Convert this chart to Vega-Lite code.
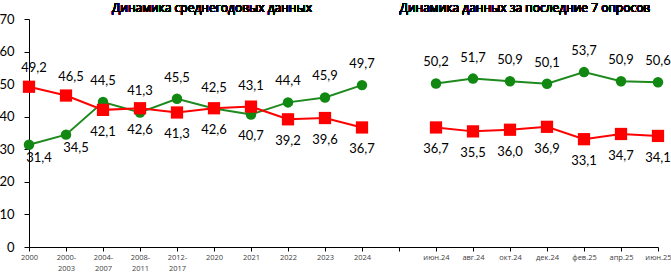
{
  "$schema": "https://vega.github.io/schema/vega-lite/v6.json",
  "autosize": "none",
  "width": 629,
  "height": 228,
  "padding": {"left": 29, "top": 19, "right": 13, "bottom": 26},
  "background": "white",
  "config": {"view": {"stroke": null}},
  "data": {"values": [
    {"cat": "2000", "period": "a", "series": "A", "value": 31.4},
    {"cat": "2000-2003", "period": "a", "series": "A", "value": 34.5},
    {"cat": "2004-2007", "period": "a", "series": "A", "value": 44.5},
    {"cat": "2008-2011", "period": "a", "series": "A", "value": 41.3},
    {"cat": "2012-2017", "period": "a", "series": "A", "value": 45.5},
    {"cat": "2020", "period": "a", "series": "A", "value": 42.5},
    {"cat": "2021", "period": "a", "series": "A", "value": 40.7},
    {"cat": "2022", "period": "a", "series": "A", "value": 44.4},
    {"cat": "2023", "period": "a", "series": "A", "value": 45.9},
    {"cat": "2024", "period": "a", "series": "A", "value": 49.7},
    {"cat": "июн.24", "period": "b", "series": "A", "value": 50.2},
    {"cat": "авг.24", "period": "b", "series": "A", "value": 51.7},
    {"cat": "окт.24", "period": "b", "series": "A", "value": 50.9},
    {"cat": "дек.24", "period": "b", "series": "A", "value": 50.1},
    {"cat": "фев.25", "period": "b", "series": "A", "value": 53.7},
    {"cat": "апр.25", "period": "b", "series": "A", "value": 50.9},
    {"cat": "июн.25", "period": "b", "series": "A", "value": 50.6},
    {"cat": "2000", "period": "a", "series": "B", "value": 49.2},
    {"cat": "2000-2003", "period": "a", "series": "B", "value": 46.5},
    {"cat": "2004-2007", "period": "a", "series": "B", "value": 42.1},
    {"cat": "2008-2011", "period": "a", "series": "B", "value": 42.6},
    {"cat": "2012-2017", "period": "a", "series": "B", "value": 41.3},
    {"cat": "2020", "period": "a", "series": "B", "value": 42.6},
    {"cat": "2021", "period": "a", "series": "B", "value": 43.1},
    {"cat": "2022", "period": "a", "series": "B", "value": 39.2},
    {"cat": "2023", "period": "a", "series": "B", "value": 39.6},
    {"cat": "2024", "period": "a", "series": "B", "value": 36.7},
    {"cat": "июн.24", "period": "b", "series": "B", "value": 36.7},
    {"cat": "авг.24", "period": "b", "series": "B", "value": 35.5},
    {"cat": "окт.24", "period": "b", "series": "B", "value": 36.0},
    {"cat": "дек.24", "period": "b", "series": "B", "value": 36.9},
    {"cat": "фев.25", "period": "b", "series": "B", "value": 33.1},
    {"cat": "апр.25", "period": "b", "series": "B", "value": 34.7},
    {"cat": "июн.25", "period": "b", "series": "B", "value": 34.1}
  ]},
  "transform": [
    {"calculate": "replace(format(datum.value, '.1f'), '.', ',')", "as": "label"}
  ],
  "encoding": {
    "x": {
      "field": "cat", "type": "nominal",
      "scale": {"type": "point", "padding": 0, "domain": ["2000", "2000-2003", "2004-2007", "2008-2011", "2012-2017", "2020", "2021", "2022", "2023", "2024", " ", "июн.24", "авг.24", "окт.24", "дек.24", "фев.25", "апр.25", "июн.25"]},
      "axis": {
        "title": null, "labelAngle": 0, "domainColor": "#000", "domainWidth": 1,
        "tickColor": "#000", "tickSize": 4, "labelPadding": 2,
        "labelFont": "Open Sans", "labelFontSize": 7.5, "labelColor": "#404040",
        "labelLineHeight": 11, "labelBaseline": "top",
        "labelExpr": "indexof(datum.label, '-') > 0 ? [substring(datum.label, 0, 5), substring(datum.label, 5)] : datum.label"
      }
    },
    "y": {
      "field": "value", "type": "quantitative",
      "scale": {"domain": [0, 70], "nice": false},
      "axis": {
        "title": null, "values": [0, 10, 20, 30, 40, 50, 60, 70], "grid": false,
        "domainColor": "#000", "tickColor": "#000", "tickSize": 5, "labelPadding": 10,
        "labelFont": "Lato", "labelFontSize": 13, "labelColor": "#000"
      }
    }
  },
  "layer": [
    {
      "mark": {"type": "line", "strokeWidth": 2},
      "encoding": {
        "color": {"field": "series", "type": "nominal", "legend": null, "scale": {"domain": ["A", "B"], "range": ["#1e8a1e", "#ff0000"]}},
        "detail": {"field": "period"}
      }
    },
    {
      "transform": [{"filter": "datum.series == 'A'"}],
      "mark": {"type": "point", "shape": "circle", "filled": true, "size": 110, "color": "#118811", "opacity": 1}
    },
    {
      "transform": [{"filter": "datum.series == 'B'"}],
      "mark": {"type": "point", "shape": "square", "filled": true, "size": 150, "color": "#ff0000", "opacity": 1}
    },
    {
      "transform": [{"filter": "(datum.series == 'A' && indexof(['2000', '2000-2003', '2021'], datum.cat) < 0) || (datum.series == 'B' && datum.cat == '2021')"}],
      "mark": {"type": "text", "dy": -21, "font": "Lato", "fontSize": 13, "color": "#000"},
      "encoding": {"text": {"field": "label"}}
    },
    {
      "transform": [{"filter": "(datum.series == 'B' && indexof(['2000', '2000-2003', '2021'], datum.cat) < 0) || (datum.series == 'A' && datum.cat == '2021')"}],
      "mark": {"type": "text", "dy": 22, "font": "Lato", "fontSize": 13, "color": "#000"},
      "encoding": {"text": {"field": "label"}}
    },
    {
      "transform": [{"filter": "datum.series == 'B' && indexof(['2000', '2000-2003'], datum.cat) >= 0"}],
      "mark": {"type": "text", "dy": -19, "dx": 5, "font": "Lato", "fontSize": 13, "color": "#000"},
      "encoding": {"text": {"field": "label"}}
    },
    {
      "transform": [{"filter": "datum.series == 'A' && indexof(['2000', '2000-2003'], datum.cat) >= 0"}],
      "mark": {"type": "text", "dy": 13, "dx": 10, "font": "Lato", "fontSize": 13, "color": "#000"},
      "encoding": {"text": {"field": "label"}}
    },
    {
      "mark": {"type": "text", "font": "Open Sans", "fontSize": 12, "fontWeight": "normal", "color": "#000", "dx": -2, "dy": -11, "clip": false},
      "encoding": {"x": {"datum": "2020"}, "y": {"datum": 70}, "text": {"value": "Динамика среднегодовых данных"}}
    },
    {
      "mark": {"type": "text", "font": "Open Sans", "fontSize": 12, "fontWeight": "normal", "color": "#000", "dx": 15, "dy": -11, "clip": false},
      "encoding": {"x": {"datum": "окт.24"}, "y": {"datum": 70}, "text": {"value": "Динамика данных за последние 7 опросов"}}
    }
  ]
}
